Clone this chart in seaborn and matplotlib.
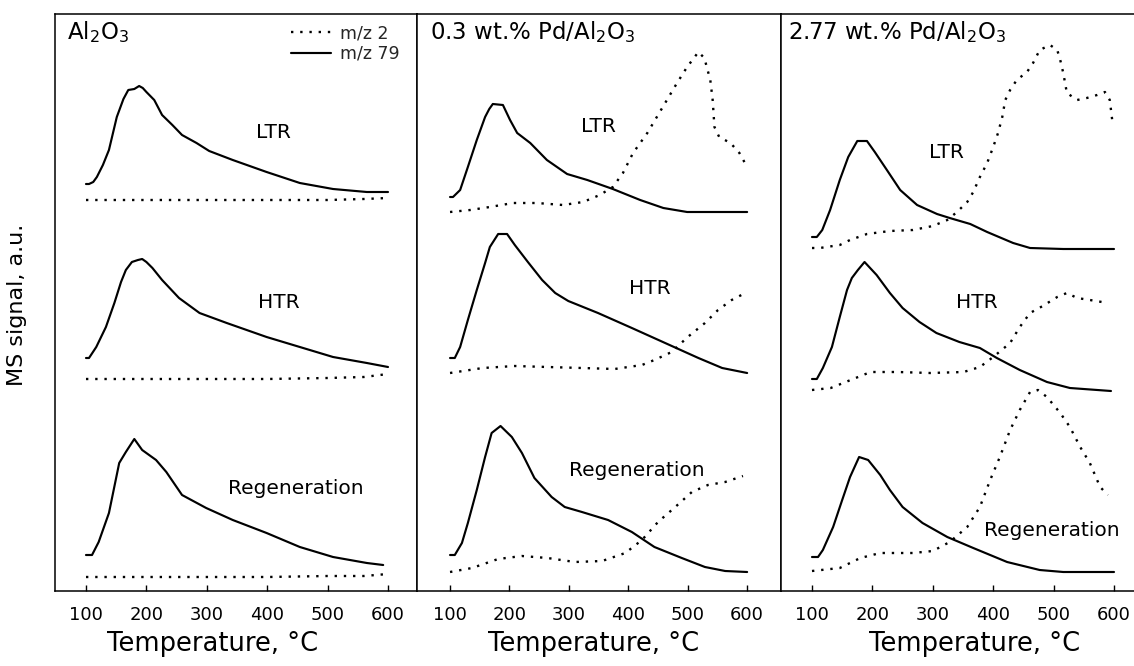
import numpy as np
import pandas as pd
import matplotlib
matplotlib.use("Agg")
import matplotlib.pyplot as plt
from matplotlib.lines import Line2D
import seaborn as sns

sns.set_theme(style="white")
plt.rcParams['font.family'] = ['DejaVu Sans']
plt.rcParams['mathtext.fontset'] = 'dejavusans'

# ---------------- data (temperature in degC, MS signal in a.u., curves offset) ----------------
# Panel 1: Al2O3
al_ltr_T79 = [100, 105, 112, 118, 128, 138, 151, 162, 170, 180, 188, 194, 200, 213, 226, 243, 259, 283, 304, 343, 399, 454, 509, 565, 600]
al_ltr_79 = [407, 407, 409, 414, 426, 441, 474, 492, 501, 502, 505, 503, 499, 491, 476, 466, 456, 448, 440, 431, 419, 408, 402, 399, 399]
al_ltr_T2 = [100, 200, 300, 400, 500, 560, 600]
al_ltr_2 = [391, 391, 391, 391, 391, 392, 393]

al_htr_T79 = [100, 105, 117, 133, 147, 158, 166, 176, 186, 193, 200, 210, 226, 254, 288, 333, 399, 454, 509, 565, 600]
al_htr_79 = [233, 233, 244, 264, 288, 309, 321, 329, 331, 332, 329, 323, 311, 293, 278, 268, 254, 244, 234, 228, 224]
al_htr_T2 = [100, 200, 300, 400, 500, 560, 600]
al_htr_2 = [212, 212, 212, 212, 213, 214, 217]

al_reg_T79 = [100, 110, 121, 138, 155, 166, 180, 193, 216, 233, 259, 299, 343, 399, 454, 509, 565, 592]
al_reg_79 = [36, 36, 49, 78, 128, 139, 152, 141, 131, 119, 96, 83, 71, 58, 44, 34, 28, 26]
al_reg_T2 = [100, 200, 300, 400, 500, 560, 600]
al_reg_2 = [14, 14, 14, 14, 15, 15, 17]

# Panel 2: 0.3 wt.% Pd/Al2O3
p3_ltr_T79 = [100, 105, 117, 130, 145, 159, 166, 172, 189, 201, 213, 235, 263, 297, 331, 374, 420, 459, 499, 543, 600]
p3_ltr_79 = [394, 394, 401, 424, 451, 474, 482, 487, 486, 471, 458, 448, 431, 417, 411, 402, 391, 383, 379, 379, 379]
p3_ltr_T2 = [100, 134, 167, 206, 246, 290, 324, 352, 374, 391, 408, 432, 448, 465, 482, 499, 518, 528, 538, 542, 545, 553, 572, 587, 600]
p3_ltr_2 = [379, 381, 384, 388, 388, 386, 389, 396, 404, 418, 438, 458, 474, 491, 508, 524, 539, 533, 511, 491, 464, 454, 448, 438, 424]

p3_htr_T79 = [100, 108, 117, 130, 145, 159, 167, 181, 196, 209, 231, 255, 277, 299, 349, 406, 462, 518, 558, 600]
p3_htr_79 = [233, 233, 244, 271, 301, 328, 344, 357, 357, 346, 329, 311, 298, 290, 278, 263, 248, 233, 223, 218]
p3_htr_T2 = [100, 155, 209, 264, 322, 377, 423, 444, 473, 500, 529, 551, 574, 597]
p3_htr_2 = [218, 223, 225, 224, 223, 222, 226, 231, 239, 254, 268, 281, 291, 298]

p3_reg_T79 = [100, 108, 120, 130, 145, 159, 170, 185, 204, 221, 242, 271, 293, 322, 366, 406, 444, 490, 529, 563, 600]
p3_reg_79 = [36, 36, 48, 68, 101, 134, 158, 165, 154, 138, 113, 94, 84, 79, 71, 59, 44, 33, 24, 20, 19]
p3_reg_T2 = [100, 137, 181, 221, 264, 310, 356, 395, 423, 450, 479, 507, 534, 563, 593]
p3_reg_2 = [19, 23, 32, 35, 33, 29, 30, 38, 51, 69, 84, 99, 106, 109, 115]

# Panel 3: 2.77 wt.% Pd/Al2O3
p27_ltr_T79 = [100, 108, 117, 130, 146, 160, 175, 191, 204, 224, 246, 274, 307, 328, 362, 390, 433, 461, 516, 600]
p27_ltr_79 = [354, 354, 361, 381, 411, 434, 450, 450, 439, 421, 401, 386, 377, 373, 367, 359, 348, 343, 342, 342]
p27_ltr_T2 = [100, 113, 146, 163, 191, 229, 267, 300, 324, 340, 357, 367, 378, 390, 400, 408, 415, 420, 428, 439,
              456, 466, 477, 494, 506, 511, 516, 522, 539, 555, 572, 585, 593, 597]
p27_ltr_2 = [343, 343, 346, 351, 357, 360, 361, 365, 371, 379, 389, 399, 414, 428, 444, 458, 474, 491, 501, 511,
             519, 528, 541, 546, 541, 531, 518, 498, 491, 493, 496, 499, 491, 471]

p27_htr_T79 = [100, 108, 118, 133, 146, 158, 166, 176, 187, 207, 229, 250, 278, 306, 344, 378, 406, 444, 489, 527, 595]
p27_htr_79 = [212, 212, 223, 244, 274, 301, 313, 321, 329, 316, 298, 283, 269, 258, 249, 243, 233, 221, 209, 203, 200]
p27_htr_T2 = [100, 131, 164, 197, 242, 296, 351, 378, 400, 428, 444, 461, 482, 506, 522, 539, 560, 590]
p27_htr_2 = [201, 203, 211, 219, 219, 218, 219, 224, 234, 248, 264, 278, 285, 294, 298, 293, 291, 288]

p27_reg_T79 = [100, 110, 118, 135, 150, 163, 178, 193, 213, 229, 250, 283, 324, 367, 423, 477, 516, 600]
p27_reg_79 = [34, 34, 41, 64, 91, 114, 134, 131, 116, 101, 84, 68, 54, 43, 29, 21, 19, 19]
p27_reg_T2 = [100, 146, 180, 213, 267, 300, 328, 357, 378, 395, 411, 428, 444, 461, 474, 489, 511, 527, 544, 560, 577, 590]
p27_reg_2 = [20, 23, 33, 38, 38, 40, 49, 64, 84, 111, 134, 161, 181, 199, 201, 194, 178, 164, 144, 128, 104, 96]

panel_titles = [r"Al$_2$O$_3$", r"0.3 wt.% Pd/Al$_2$O$_3$", r"2.77 wt.% Pd/Al$_2$O$_3$"]
run_labels = ["LTR", "HTR", "Regeneration"]
xticks = [100, 200, 300, 400, 500, 600]
xlabel = "Temperature, \u00b0C"
ylabel = "MS signal, a.u."
legend_labels = ["m/z 2", "m/z 79"]

panels = [
    [(al_ltr_T79, al_ltr_79, al_ltr_T2, al_ltr_2),
     (al_htr_T79, al_htr_79, al_htr_T2, al_htr_2),
     (al_reg_T79, al_reg_79, al_reg_T2, al_reg_2)],
    [(p3_ltr_T79, p3_ltr_79, p3_ltr_T2, p3_ltr_2),
     (p3_htr_T79, p3_htr_79, p3_htr_T2, p3_htr_2),
     (p3_reg_T79, p3_reg_79, p3_reg_T2, p3_reg_2)],
    [(p27_ltr_T79, p27_ltr_79, p27_ltr_T2, p27_ltr_2),
     (p27_htr_T79, p27_htr_79, p27_htr_T2, p27_htr_2),
     (p27_reg_T79, p27_reg_79, p27_reg_T2, p27_reg_2)],
]

# label positions (T, signal) for run labels in each panel
label_pos = [
    [(410, 459), (420, 289), (448, 102)],
    [(349, 464), (437, 303), (415, 121)],
    [(322, 438), (373, 289), (497, 61)],
]

# ---------------- layout ----------------
W, H = 1134, 666
fig = plt.figure(figsize=(W / 100, H / 100), dpi=100)
fig.patch.set_facecolor("white")

top_px, bot_px = 14, 591
ax_px = [(55, 417), (417, 781), (781, 1143)]
xlims = [(48.7, 648), (44.4, 657), (48.7, 648)]
xlabel_x = [0.436, 0.486, 0.536]

dot_style = (0, (1, 2.9))
axes = []
for i, (l, r) in enumerate(ax_px):
    ax = fig.add_axes([l / W, (H - bot_px) / H, (r - l) / W, (bot_px - top_px) / H])
    axes.append(ax)
    for (T79, s79, T2, s2) in panels[i]:
        sns.lineplot(x=T2, y=s2, ax=ax, color="black", lw=1.7, linestyle=dot_style,
                     estimator=None, sort=False)
        sns.lineplot(x=T79, y=s79, ax=ax, color="black", lw=1.55,
                     estimator=None, sort=False)
    for line in ax.get_lines():
        line.set_dash_capstyle("butt")
        line.set_solid_joinstyle("round")
    ax.set_xlim(*xlims[i])
    ax.set_ylim(0, 577)
    ax.set_yticks([])
    ax.set_xticks(xticks)
    ax.set_xticklabels([str(t) for t in xticks])
    ax.tick_params(axis="x", direction="in", length=4.5, width=1.0, pad=11,
                   labelsize=13, colors="black", bottom=True, top=False)
    for sp in ax.spines.values():
        sp.set_visible(True)
        sp.set_color("black")
        sp.set_linewidth(1.1)
    ax.set_ylabel("")
    ax.set_xlabel(xlabel, fontsize=18.5, color="black")
    ax.xaxis.set_label_coords(xlabel_x[i], -0.070)
    ax.xaxis.label.set_va("top")
    ax.set_facecolor("white")
    for (tx, ty), lab in zip(label_pos[i], run_labels):
        ax.text(tx, ty, lab, fontsize=14.5, ha="center", va="center", color="black")

title_x = [(67 - 55) / 362, (430 - 417) / 364, (788 - 781) / 362]
for ax, t, tx in zip(axes, panel_titles, title_x):
    ax.text(tx, (bot_px - 39) / (bot_px - top_px), t, transform=ax.transAxes,
            fontsize=16.5, ha="left", va="baseline", color="black")

handles = [Line2D([], [], color="black", lw=1.7, linestyle=dot_style, dash_capstyle="butt"),
           Line2D([], [], color="black", lw=1.55)]
axes[0].legend(handles, legend_labels, loc="upper left", frameon=False,
               bbox_to_anchor=(291 / W, 1 - 24 / H), bbox_transform=fig.transFigure,
               fontsize=12.5, handlelength=2.3, handletextpad=0.5, labelspacing=0.15,
               borderpad=0, borderaxespad=0)

fig.text(17 / W, 1 - 305 / H, ylabel, rotation=90, ha="center", va="center",
         fontsize=16, color="black")

fig.savefig("out.png", dpi=100, facecolor="white")
